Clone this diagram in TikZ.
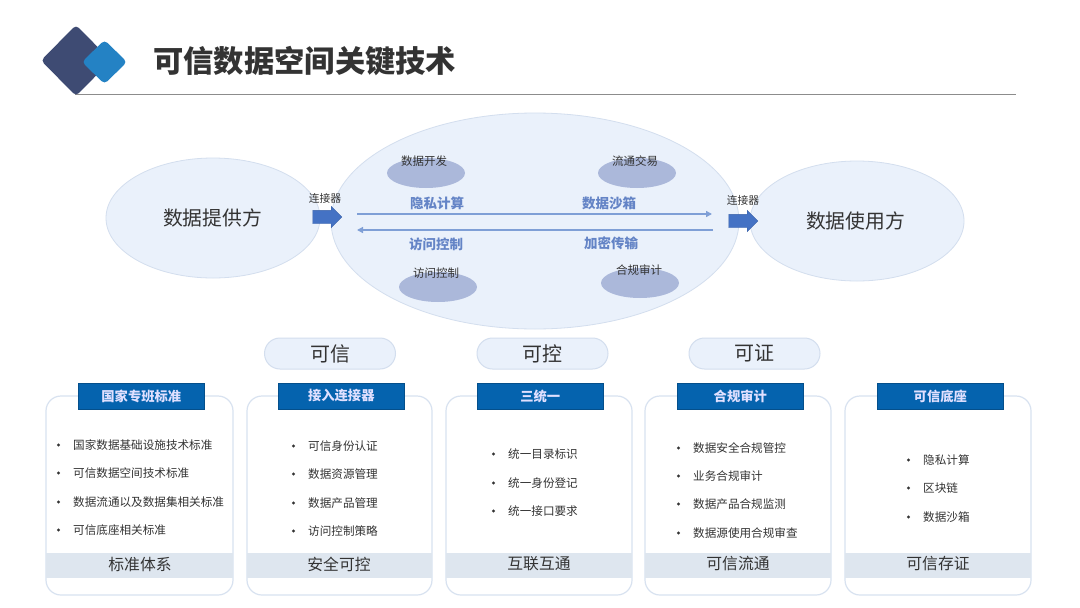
\documentclass[tikz,border=0pt]{standalone}
\usepackage{fontspec}
\setmainfont{Noto Sans CJK SC}
\usetikzlibrary{shapes.geometric,shapes.arrows,arrows.meta}
\definecolor{ink}{HTML}{333333}
\definecolor{paleblue}{HTML}{EAF1FB}
\definecolor{paleedge}{HTML}{D3DEEE}
\definecolor{midell}{HTML}{ABB8DA}
\definecolor{blueword}{HTML}{6484C6}
\definecolor{flow}{HTML}{7F9FD6}
\definecolor{block}{HTML}{4472C4}
\definecolor{headblue}{HTML}{0563AE}
\definecolor{band}{HTML}{DEE6EF}
\definecolor{cardedge}{HTML}{D8E2F0}
\definecolor{logodark}{HTML}{3E4B73}
\definecolor{logoblue}{HTML}{2482C4}
\tikzset{
  x=1pt,y=-1pt,
  txt/.style={inner sep=0pt,font=\fontsize{#1}{#1}\selectfont,text=ink},
  bigell/.style={ellipse,draw=paleedge,line width=0.8pt,fill=paleblue,inner sep=0pt},
  subell/.style={ellipse,fill=midell,inner sep=0pt,minimum width=78pt,minimum height=30pt},
  bluelabel/.style={inner sep=0pt,text=blueword,font=\fontsize{13.5}{13.5}\selectfont\bfseries},
  flowline/.style={draw=flow,line width=1.3pt,-{Triangle[length=6pt,width=6pt]}},
  blockarrow/.style={single arrow,fill=block,draw=block!85!black,line width=0.3pt,inner xsep=0pt,inner ysep=6.5pt,minimum height=29pt,minimum width=21pt,single arrow head extend=4pt,single arrow tip angle=90},
  card/.style={draw=cardedge,line width=1.2pt,rounded corners=15pt,fill=white},
  bandbox/.style={fill=band,inner sep=0pt,minimum height=25pt,minimum width=187pt},
  header/.style={fill=headblue,draw=headblue!80!black,line width=0.4pt,inner sep=0pt,minimum width=126.5pt,minimum height=26pt,text=white!88!blue,font=\fontsize{13.3}{13.3}\selectfont\bfseries},
  pill/.style={rounded corners=15.5pt,draw=paleedge,line width=1pt,fill=paleblue,inner sep=0pt,minimum width=131pt,minimum height=31pt,text=ink,font=\fontsize{20}{20}\selectfont},
  item/.style={txt=11.6,anchor=west},
  dot/.style={circle,fill=ink,inner sep=0pt,minimum size=3.2pt},
}
\begin{document}
\begin{tikzpicture}
\useasboundingbox (0,0) rectangle (1080,608);
\fill[white] (0,0) rectangle (1080,608);
% title
\coordinate (ruleL) at (75,94);
\coordinate (ruleR) at (1016,94);
\draw[color=black!45,line width=1pt] (ruleL) -- (ruleR);
\fill[logodark,rounded corners=4pt] (41,60.5) -- (76,25) -- (111,60.5) -- (76,96) -- cycle;
\fill[logoblue,rounded corners=4pt] (82,62) -- (104.5,40) -- (127,62) -- (104.5,84) -- cycle;
\node[txt=30.3,anchor=west,font=\fontsize{30.3}{30.3}\selectfont\bfseries] (title) at (153,61) {可信数据空间关键技术};
% top ellipses
\node[bigell,minimum width=214pt,minimum height=120pt] (prov) at (213,218) {};
\node[bigell,minimum width=214pt,minimum height=120pt] (user) at (857,221) {};
\node[bigell,minimum width=408pt,minimum height=216pt] (core) at (535,221) {};
\node[txt=19.8] (provt) at (212.5,218) {数据提供方};
\node[txt=19.8] (usert) at (855.5,221) {数据使用方};
\node[subell] (e1) at (426,173) {};
\node[subell] (e2) at (637,173) {};
\node[subell] (e3) at (438,287) {};
\node[subell] (e4) at (640,283) {};
\node[txt=11.5] (e1t) at (424,161) {数据开发};
\node[txt=11.5] (e2t) at (635,161) {流通交易};
\node[txt=11.5] (e3t) at (436,273.5) {访问控制};
\node[txt=11.5] (e4t) at (639,270.5) {合规审计};
\node[bluelabel] (b1) at (437,203) {隐私计算};
\node[bluelabel] (b2) at (609,203) {数据沙箱};
\node[bluelabel] (b3) at (436,244) {访问控制};
\node[bluelabel] (b4) at (611,243) {加密传输};
\coordinate (fa) at (357,214);
\coordinate (fb) at (712,214);
\coordinate (fc) at (713,230);
\coordinate (fd) at (357,230);
\draw[flowline] (fa) -- (fb);
\draw[flowline] (fc) -- (fd);
\node[blockarrow] (ca) at (324,217) {};
\node[blockarrow] (cb) at (740,221) {};
\node[txt=10.8] (cat) at (325,198) {连接器};
\node[txt=10.8] (cbt) at (743,200) {连接器};
% pills
\node[pill] (p1) at (330,353.5) {可信};
\node[pill] (p2) at (542.5,353.5) {可控};
\node[pill] (p3) at (754.5,353.5) {可证};
% cards
\draw[card] (46,396) rectangle (233,595);
\draw[card] (247,396) rectangle (432,595);
\draw[card] (446,396) rectangle (632,595);
\draw[card] (645,396) rectangle (831,595);
\draw[card] (845,396) rectangle (1031,595);
\node[bandbox,minimum width=187pt] (g1) at (139.5,565) {};
\node[bandbox,minimum width=185pt] (g2) at (339.5,565) {};
\node[bandbox,minimum width=186pt] (g3) at (539,565) {};
\node[bandbox,minimum width=186pt] (g4) at (738,565) {};
\node[bandbox,minimum width=186pt] (g5) at (938,565) {};
\node[txt=15.8] (g1t) at (140,564) {标准体系};
\node[txt=15.8] (g2t) at (339,564) {安全可控};
\node[txt=15.8] (g3t) at (539,564) {互联互通};
\node[txt=15.8] (g4t) at (738,564) {可信流通};
\node[txt=15.8] (g5t) at (938,564) {可信存证};
\node[header] (h1) at (141.3,396) {国家专班标准};
\node[header] (h2) at (341.3,396) {接入连接器};
\node[header] (h3) at (540.3,396) {三统一};
\node[header] (h4) at (740.3,396) {合规审计};
\node[header] (h5) at (940.3,396) {可信底座};
% lists
\foreach \n/\x/\y/\t in {
 a1/73/445/国家数据基础设施技术标准, a2/73/473/可信数据空间技术标准, a3/73/502/数据流通以及数据集相关标准, a4/73/530/可信底座相关标准,
 c1/308/446/可信身份认证, c2/308/474/数据资源管理, c3/308/503/数据产品管理, c4/308/531/访问控制策略,
 d1/508/454/统一目录标识, d2/508/483/统一身份登记, d3/508/511/统一接口要求,
 f1/693/448/数据安全合规管控, f2/693/476/业务合规审计, f3/693/504/数据产品合规监测, f4/693/533/数据源使用合规审查,
 k1/923/460/隐私计算, k2/923/488/区块链, k3/923/517/数据沙箱}{
  \node[item] (\n) at (\x,\y) {\t};
  \node[dot] (\n b) at (\x-14.5,\y) {};
}
\end{tikzpicture}
\end{document}
